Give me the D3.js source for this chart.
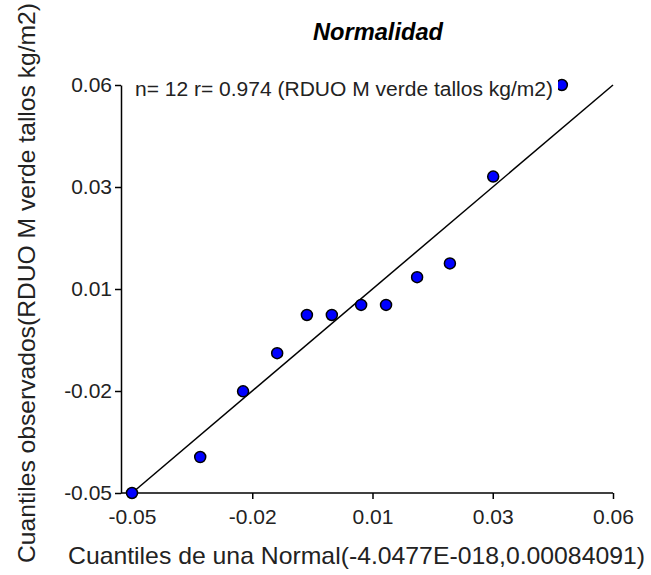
<!DOCTYPE html>
<html>
<head>
<meta charset="utf-8">
<script src="https://cdn.jsdelivr.net/npm/d3@7"></script>
<style>
  body { margin: 0; background: #fff; }
  svg { font-family: "Liberation Sans", Arial, sans-serif; }
</style>
</head>
<body>
<svg id="qq"></svg>
<script>
const normalQuantiles = [-0.05, -0.0344, -0.0246, -0.0168, -0.0100, -0.0043, 0.0024, 0.0081, 0.0152, 0.0227, 0.0326, 0.0483];
const observedQuantiles = [-0.05, -0.0403, -0.0226, -0.0123, -0.0020, -0.0020, 0.0007, 0.0007, 0.0082, 0.0119, 0.0353, 0.06];
const tickValues = [-0.05, -0.0225, 0.005, 0.0325, 0.06];
const tickLabels = ["-0.05", "-0.02", "0.01", "0.03", "0.06"];
const refLine = [[-0.05, -0.05], [0.06, 0.06]];

const svg = d3.select("#qq")
  .attr("width", 651)
  .attr("height", 575);

const x = d3.scaleLinear().domain([-0.05, 0.06]).range([132, 613]);
const y = d3.scaleLinear().domain([-0.05, 0.06]).range([493, 85]);
const axisLeftX = 121;

const fmt = d => tickLabels[tickValues.indexOf(d)];

// x axis
const gx = svg.append("g")
  .attr("transform", `translate(0,${y(-0.05)})`)
  .call(d3.axisBottom(x).tickValues(tickValues).tickFormat(fmt).tickSize(6).tickSizeOuter(0).tickPadding(10));
gx.select(".domain").remove();
gx.append("line")
  .attr("x1", axisLeftX).attr("x2", x(0.06))
  .attr("stroke", "#000").attr("stroke-width", 1.5);

// y axis
const gy = svg.append("g")
  .attr("transform", `translate(${axisLeftX},0)`)
  .call(d3.axisLeft(y).tickValues(tickValues).tickFormat(fmt).tickSize(6).tickSizeOuter(0).tickPadding(3));

svg.selectAll("g")
  .attr("font-family", "Liberation Sans, Arial, sans-serif")
  .attr("font-size", 21);
svg.selectAll(".tick line").attr("stroke", "#000").attr("stroke-width", 1.5);
svg.selectAll(".domain").attr("stroke", "#000").attr("stroke-width", 1.5);
svg.selectAll(".tick text").attr("fill", "#222");

// reference line
svg.append("path")
  .datum(refLine)
  .attr("fill", "none")
  .attr("stroke", "#000")
  .attr("stroke-width", 1.5)
  .attr("d", d3.line().x(d => x(d[0])).y(d => y(d[1])));

// points
svg.append("g")
  .selectAll("circle")
  .data(normalQuantiles.map((v, i) => [v, observedQuantiles[i]]))
  .join("circle")
  .attr("cx", d => x(d[0]))
  .attr("cy", d => y(d[1]))
  .attr("r", 5.5)
  .attr("fill", "#0000ff")
  .attr("stroke", "#000")
  .attr("stroke-width", 1.5);

// annotation box (covers part of the top point like the original)
svg.append("rect")
  .attr("x", 130).attr("y", 75).attr("width", 428).attr("height", 26)
  .attr("fill", "#fff");
svg.append("text")
  .attr("x", 135).attr("y", 96)
  .attr("textLength", 418)
  .attr("lengthAdjust", "spacingAndGlyphs")
  .style("font-size", "20px")
  .attr("fill", "#222")
  .text("n= 12 r= 0.974 (RDUO M verde tallos kg/m2)");

// title
svg.append("text")
  .attr("x", 313).attr("y", 40)
  .attr("textLength", 130)
  .attr("lengthAdjust", "spacingAndGlyphs")
  .style("font-size", "23px")
  .style("font-weight", "bold")
  .style("font-style", "italic")
  .text("Normalidad");

// axis titles
svg.append("text")
  .attr("x", 68).attr("y", 564)
  .attr("textLength", 577)
  .attr("lengthAdjust", "spacingAndGlyphs")
  .style("font-size", "24px")
  .attr("fill", "#222")
  .text("Cuantiles de una Normal(-4.0477E-018,0.00084091)");

svg.append("text")
  .attr("transform", "translate(35,563) rotate(-90)")
  .attr("textLength", 560)
  .attr("lengthAdjust", "spacingAndGlyphs")
  .style("font-size", "24px")
  .attr("fill", "#222")
  .text("Cuantiles observados(RDUO M verde tallos kg/m2)");
</script>
</body>
</html>
